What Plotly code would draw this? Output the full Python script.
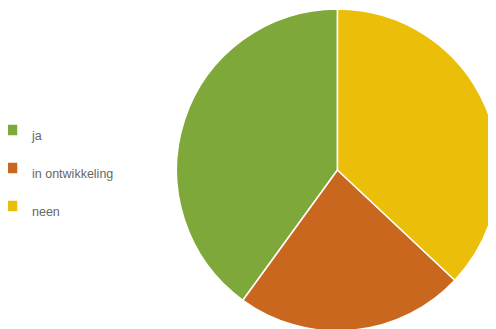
import plotly.graph_objects as go

labels = ["ja", "in ontwikkeling", "neen"]
values = [40, 23, 37]
colors = ["#7ea83a", "#ca671e", "#ebbe0a"]

legend_labels = ['<span style="font-size:12.5px">%s</span>' % l for l in labels]

# first slice (counterclockwise) should start at 12 o'clock
start_rotation = 360 - 360 * values[0] / sum(values)

W, H = 496, 329

fig = go.Figure(go.Pie(
    labels=legend_labels,
    values=values,
    sort=False,
    direction="counterclockwise",
    rotation=start_rotation,
    textinfo="none",
    hoverinfo="skip",
    marker=dict(colors=colors, line=dict(color="white", width=1.5)),
    domain=dict(x=[168.5 / W, 490.5 / W], y=[6 / H, 328 / H]),
))

fig.update_layout(
    width=W, height=H,
    margin=dict(l=0, r=0, t=0, b=0, autoexpand=False),
    paper_bgcolor="white",
    plot_bgcolor="white",
    showlegend=True,
    legend=dict(
        x=-16 / W, xanchor="left",
        y=(H - 160) / H, yanchor="middle",
        font=dict(family="Liberation Sans, Arial, sans-serif", size=26.9, color="#666666"),
        bgcolor="rgba(0,0,0,0)",
    ),
)

fig.write_html("out.html")
